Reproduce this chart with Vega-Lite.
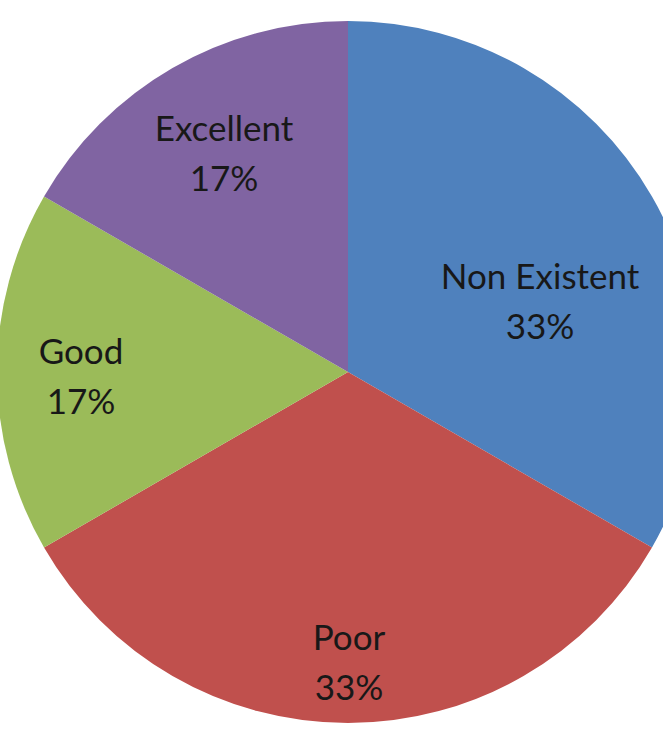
{
  "$schema": "https://vega.github.io/schema/vega-lite/v6.json",
  "width": 630,
  "height": 700,
  "autosize": {"type": "none"},
  "padding": {"left": 33, "top": 22, "right": 0, "bottom": 13},
  "background": "white",
  "config": {"view": {"stroke": null}},
  "data": {
    "values": [
      {"category": "Non Existent", "count": 2, "pct": "33%", "rank": 1},
      {"category": "Poor", "count": 2, "pct": "33%", "rank": 2},
      {"category": "Good", "count": 1, "pct": "17%", "rank": 3},
      {"category": "Excellent", "count": 1, "pct": "17%", "rank": 4}
    ]
  },
  "transform": [
    {"stack": "count", "groupby": [], "sort": [{"field": "rank", "order": "ascending"}], "as": ["t0", "t1"]},
    {"calculate": "(datum.t0 + datum.t1) / 2", "as": "tmid"},
    {"calculate": "[datum.category, datum.pct]", "as": "label"}
  ],
  "layer": [
    {
      "mark": {"type": "arc", "outerRadius": 351},
      "encoding": {
        "theta": {"field": "t0", "type": "quantitative", "scale": {"domain": [0, 6]}},
        "theta2": {"field": "t1"},
        "color": {
          "field": "category",
          "type": "nominal",
          "scale": {
            "domain": ["Non Existent", "Poor", "Good", "Excellent"],
            "range": ["#4F81BD", "#C0504D", "#9BBB59", "#8064A2"]
          },
          "legend": null
        }
      }
    },
    {
      "transform": [{"filter": "datum.category === 'Non Existent'"}],
      "mark": {"type": "text", "radius": 201, "dx": 18, "dy": 6, "font": "Lato", "fontSize": 35, "lineHeight": 50, "color": "#181818", "align": "center", "baseline": "middle"},
      "encoding": {
        "theta": {"field": "tmid", "type": "quantitative", "scale": {"domain": [0, 6]}},
        "text": {"field": "label", "type": "nominal"}
      }
    },
    {
      "transform": [{"filter": "datum.category === 'Poor'"}],
      "mark": {"type": "text", "radius": 291, "dx": 1, "dy": -24, "font": "Lato", "fontSize": 35, "lineHeight": 50, "color": "#181818", "align": "center", "baseline": "middle"},
      "encoding": {
        "theta": {"field": "tmid", "type": "quantitative", "scale": {"domain": [0, 6]}},
        "text": {"field": "label", "type": "nominal"}
      }
    },
    {
      "transform": [{"filter": "datum.category === 'Good'"}],
      "mark": {"type": "text", "radius": 267, "dy": -19, "font": "Lato", "fontSize": 35, "lineHeight": 50, "color": "#181818", "align": "center", "baseline": "middle"},
      "encoding": {
        "theta": {"field": "tmid", "type": "quantitative", "scale": {"domain": [0, 6]}},
        "text": {"field": "label", "type": "nominal"}
      }
    },
    {
      "transform": [{"filter": "datum.category === 'Excellent'"}],
      "mark": {"type": "text", "radius": 252, "dx": 2, "dy": -24, "font": "Lato", "fontSize": 35, "lineHeight": 50, "color": "#181818", "align": "center", "baseline": "middle"},
      "encoding": {
        "theta": {"field": "tmid", "type": "quantitative", "scale": {"domain": [0, 6]}},
        "text": {"field": "label", "type": "nominal"}
      }
    }
  ]
}
